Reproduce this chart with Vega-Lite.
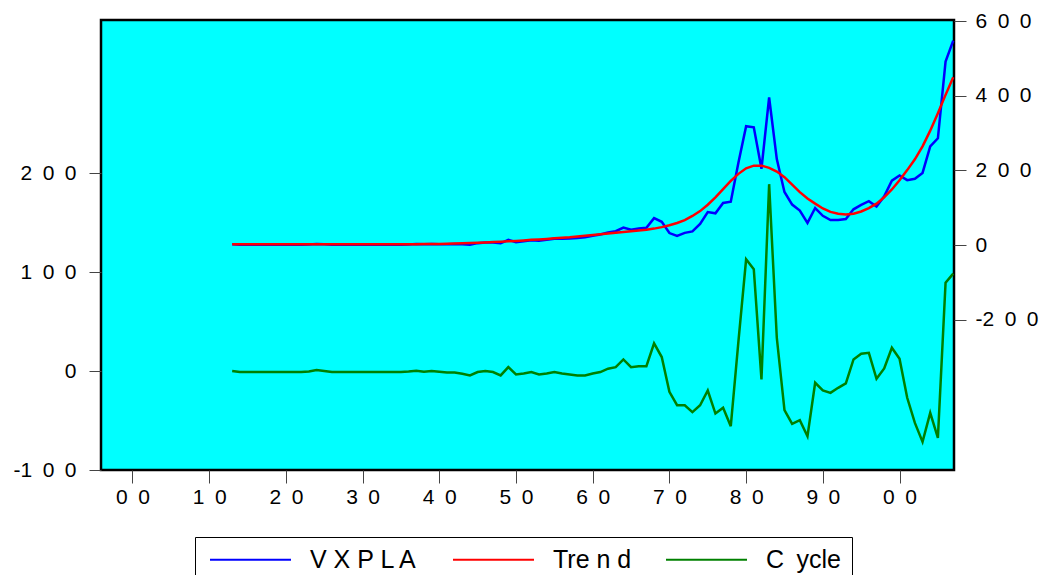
{
  "$schema": "https://vega.github.io/schema/vega-lite/v6.json",
  "width": 853,
  "height": 450,
  "autosize": {"type": "none"},
  "padding": {"left": 101, "top": 20, "right": 92, "bottom": 105},
  "background": "white",
  "config": {
    "view": {"fill": "#00FFFF", "stroke": "black", "strokeWidth": 2.5},
    "axis": {
      "labelFont": "Liberation Sans",
      "labelFontSize": 21,
      "labelColor": "black",
      "tickColor": "#444",
      "tickWidth": 1,
      "domain": false,
      "grid": false,
      "labelFlush": false,
      "labelOverlap": false,
      "labelBound": false
    },
    "legend": {
      "orient": "none",
      "legendX": 94,
      "legendY": 517,
      "direction": "horizontal",
      "strokeColor": "black",
      "fillColor": "white",
      "padding": 10,
      "symbolType": "M-4,0H4",
      "symbolSize": 410,
      "symbolOffset": 33,
      "symbolStrokeWidth": 2,
      "labelOffset": 47,
      "labelFont": "Liberation Sans",
      "labelFontSize": 25,
      "labelColor": "black",
      "columnPadding": 29,
      "title": null
    }
  },
  "data": {
    "values": [
      {"year": 1913, "VXPLA": 2, "Trend": 2, "Cycle": 0},
      {"year": 1914, "VXPLA": 1, "Trend": 2, "Cycle": -1},
      {"year": 1915, "VXPLA": 1, "Trend": 2, "Cycle": -1},
      {"year": 1916, "VXPLA": 1, "Trend": 2, "Cycle": -1},
      {"year": 1917, "VXPLA": 1, "Trend": 2, "Cycle": -1},
      {"year": 1918, "VXPLA": 1, "Trend": 2, "Cycle": -1},
      {"year": 1919, "VXPLA": 1, "Trend": 2, "Cycle": -1},
      {"year": 1920, "VXPLA": 1, "Trend": 2, "Cycle": -1},
      {"year": 1921, "VXPLA": 1, "Trend": 2, "Cycle": -1},
      {"year": 1922, "VXPLA": 1, "Trend": 2, "Cycle": -1},
      {"year": 1923, "VXPLA": 1.5, "Trend": 2, "Cycle": -0.5},
      {"year": 1924, "VXPLA": 3, "Trend": 2, "Cycle": 1},
      {"year": 1925, "VXPLA": 2, "Trend": 2, "Cycle": 0},
      {"year": 1926, "VXPLA": 1, "Trend": 2, "Cycle": -1},
      {"year": 1927, "VXPLA": 1, "Trend": 2, "Cycle": -1},
      {"year": 1928, "VXPLA": 1, "Trend": 2, "Cycle": -1},
      {"year": 1929, "VXPLA": 1, "Trend": 2, "Cycle": -1},
      {"year": 1930, "VXPLA": 1, "Trend": 2, "Cycle": -1},
      {"year": 1931, "VXPLA": 1, "Trend": 2, "Cycle": -1},
      {"year": 1932, "VXPLA": 1, "Trend": 2, "Cycle": -1},
      {"year": 1933, "VXPLA": 1, "Trend": 2, "Cycle": -1},
      {"year": 1934, "VXPLA": 1, "Trend": 2, "Cycle": -1},
      {"year": 1935, "VXPLA": 1, "Trend": 2, "Cycle": -1},
      {"year": 1936, "VXPLA": 1.5, "Trend": 2, "Cycle": -0.5},
      {"year": 1937, "VXPLA": 2.5, "Trend": 2.2, "Cycle": 0.3},
      {"year": 1938, "VXPLA": 1.8, "Trend": 2.4, "Cycle": -0.6},
      {"year": 1939, "VXPLA": 2.6, "Trend": 2.6, "Cycle": 0},
      {"year": 1940, "VXPLA": 2.3, "Trend": 3, "Cycle": -0.7},
      {"year": 1941, "VXPLA": 2, "Trend": 3.5, "Cycle": -1.5},
      {"year": 1942, "VXPLA": 2.5, "Trend": 4, "Cycle": -1.5},
      {"year": 1943, "VXPLA": 2, "Trend": 4.7, "Cycle": -2.7},
      {"year": 1944, "VXPLA": 1, "Trend": 5.4, "Cycle": -4.4},
      {"year": 1945, "VXPLA": 5, "Trend": 6, "Cycle": -1},
      {"year": 1946, "VXPLA": 7, "Trend": 7, "Cycle": 0},
      {"year": 1947, "VXPLA": 7, "Trend": 8, "Cycle": -1},
      {"year": 1948, "VXPLA": 4.6, "Trend": 9, "Cycle": -4.4},
      {"year": 1949, "VXPLA": 14, "Trend": 10, "Cycle": 4},
      {"year": 1950, "VXPLA": 7.6, "Trend": 11, "Cycle": -3.4},
      {"year": 1951, "VXPLA": 10, "Trend": 12.4, "Cycle": -2.4},
      {"year": 1952, "VXPLA": 13, "Trend": 14, "Cycle": -1},
      {"year": 1953, "VXPLA": 11.6, "Trend": 15, "Cycle": -3.4},
      {"year": 1954, "VXPLA": 14, "Trend": 16.4, "Cycle": -2.4},
      {"year": 1955, "VXPLA": 17, "Trend": 18, "Cycle": -1},
      {"year": 1956, "VXPLA": 17.1, "Trend": 19.5, "Cycle": -2.4},
      {"year": 1957, "VXPLA": 17.6, "Trend": 21, "Cycle": -3.4},
      {"year": 1958, "VXPLA": 18.6, "Trend": 23, "Cycle": -4.4},
      {"year": 1959, "VXPLA": 20.6, "Trend": 25, "Cycle": -4.4},
      {"year": 1960, "VXPLA": 24.6, "Trend": 27, "Cycle": -2.4},
      {"year": 1961, "VXPLA": 28, "Trend": 29, "Cycle": -1},
      {"year": 1962, "VXPLA": 33.4, "Trend": 31, "Cycle": 2.4},
      {"year": 1963, "VXPLA": 37, "Trend": 33, "Cycle": 4},
      {"year": 1964, "VXPLA": 46.8, "Trend": 35, "Cycle": 11.8},
      {"year": 1965, "VXPLA": 41, "Trend": 37, "Cycle": 4},
      {"year": 1966, "VXPLA": 44, "Trend": 39, "Cycle": 5},
      {"year": 1967, "VXPLA": 46, "Trend": 41, "Cycle": 5},
      {"year": 1968, "VXPLA": 72, "Trend": 44, "Cycle": 28},
      {"year": 1969, "VXPLA": 62.2, "Trend": 48, "Cycle": 14.2},
      {"year": 1970, "VXPLA": 32, "Trend": 53, "Cycle": -21},
      {"year": 1971, "VXPLA": 24.5, "Trend": 59, "Cycle": -34.5},
      {"year": 1972, "VXPLA": 32.5, "Trend": 67, "Cycle": -34.5},
      {"year": 1973, "VXPLA": 36.5, "Trend": 78, "Cycle": -41.5},
      {"year": 1974, "VXPLA": 56.5, "Trend": 91, "Cycle": -34.5},
      {"year": 1975, "VXPLA": 88.4, "Trend": 108, "Cycle": -19.6},
      {"year": 1976, "VXPLA": 85.1, "Trend": 128, "Cycle": -42.9},
      {"year": 1977, "VXPLA": 112.9, "Trend": 150, "Cycle": -37.1},
      {"year": 1978, "VXPLA": 116.3, "Trend": 172, "Cycle": -55.7},
      {"year": 1979, "VXPLA": 221.4, "Trend": 191, "Cycle": 30.4},
      {"year": 1980, "VXPLA": 319, "Trend": 206, "Cycle": 113},
      {"year": 1981, "VXPLA": 316, "Trend": 213, "Cycle": 103},
      {"year": 1982, "VXPLA": 204.6, "Trend": 213, "Cycle": -8.4},
      {"year": 1983, "VXPLA": 396, "Trend": 207, "Cycle": 189},
      {"year": 1984, "VXPLA": 230.7, "Trend": 197, "Cycle": 33.7},
      {"year": 1985, "VXPLA": 142.5, "Trend": 182, "Cycle": -39.5},
      {"year": 1986, "VXPLA": 108.6, "Trend": 162, "Cycle": -53.4},
      {"year": 1987, "VXPLA": 92.4, "Trend": 142, "Cycle": -49.6},
      {"year": 1988, "VXPLA": 59.2, "Trend": 125, "Cycle": -65.8},
      {"year": 1989, "VXPLA": 99.2, "Trend": 111, "Cycle": -11.8},
      {"year": 1990, "VXPLA": 78.4, "Trend": 98, "Cycle": -19.6},
      {"year": 1991, "VXPLA": 67, "Trend": 89, "Cycle": -22},
      {"year": 1992, "VXPLA": 67.1, "Trend": 84, "Cycle": -16.9},
      {"year": 1993, "VXPLA": 69.5, "Trend": 82, "Cycle": -12.5},
      {"year": 1994, "VXPLA": 95.8, "Trend": 84, "Cycle": 11.8},
      {"year": 1995, "VXPLA": 107.5, "Trend": 90, "Cycle": 17.5},
      {"year": 1996, "VXPLA": 117.5, "Trend": 99, "Cycle": 18.5},
      {"year": 1997, "VXPLA": 103.2, "Trend": 111, "Cycle": -7.8},
      {"year": 1998, "VXPLA": 130.7, "Trend": 128, "Cycle": 2.7},
      {"year": 1999, "VXPLA": 172.6, "Trend": 149, "Cycle": 23.6},
      {"year": 2000, "VXPLA": 186.5, "Trend": 174, "Cycle": 12.5},
      {"year": 2001, "VXPLA": 174, "Trend": 201, "Cycle": -27},
      {"year": 2002, "VXPLA": 177.6, "Trend": 230, "Cycle": -52.4},
      {"year": 2003, "VXPLA": 193.4, "Trend": 265, "Cycle": -71.6},
      {"year": 2004, "VXPLA": 264.8, "Trend": 307, "Cycle": -42.2},
      {"year": 2005, "VXPLA": 286.4, "Trend": 354, "Cycle": -67.6},
      {"year": 2006, "VXPLA": 492.4, "Trend": 403, "Cycle": 89.4},
      {"year": 2007, "VXPLA": 548.6, "Trend": 450, "Cycle": 98.6}
    ]
  },
  "transform": [{"fold": ["VXPLA", "Trend", "Cycle"], "as": ["series", "value"]}],
  "encoding": {
    "x": {
      "field": "year",
      "type": "quantitative",
      "scale": {"domain": [1895.9, 2007.1], "nice": false, "zero": false},
      "axis": {
        "title": null,
        "values": [1900, 1910, 1920, 1930, 1940, 1950, 1960, 1970, 1980, 1990, 2000],
        "labelExpr": "slice(format(datum.value % 100, '02d'), 0, 1) + '\u2002' + slice(format(datum.value % 100, '02d'), 1)",
        "tickSize": 13,
        "labelPadding": 3
      }
    },
    "color": {
      "field": "series",
      "type": "nominal",
      "scale": {"domain": ["VXPLA", "Trend", "Cycle"], "range": ["#0000FF", "#FF0000", "#008000"]},
      "legend": {
        "labelExpr": "datum.label == 'VXPLA' ? 'V X P L A' : datum.label == 'Trend' ? 'Tre n d' : 'C\u2002ycle'"
      }
    }
  },
  "layer": [
    {
      "encoding": {
        "y": {
          "field": "value",
          "type": "quantitative",
          "scale": {"domain": [-604, 604], "nice": false, "zero": false},
          "axis": {
            "orient": "right",
            "title": null,
            "values": [-200, 0, 200, 400, 600],
            "labelExpr": "datum.value == -200 ? '-2\u20020\u20020' : datum.value == 0 ? '0' : datum.value == 200 ? '2\u20020\u20020' : datum.value == 400 ? '4\u20020\u20020' : '6\u20020\u20020'",
            "tickSize": 12,
            "labelPadding": 9
          }
        }
      },
      "layer": [
        {
          "transform": [{"filter": "datum.series == 'VXPLA'"}],
          "mark": {"type": "line", "strokeWidth": 2.5}
        },
        {
          "transform": [{"filter": "datum.series == 'Trend'"}],
          "mark": {"type": "line", "strokeWidth": 2.5}
        }
      ]
    },
    {
      "transform": [{"filter": "datum.series == 'Cycle'"}],
      "mark": {"type": "line", "strokeWidth": 2.5},
      "encoding": {
        "y": {
          "field": "value",
          "type": "quantitative",
          "scale": {"domain": [-100, 355], "nice": false, "zero": false},
          "axis": {
            "orient": "left",
            "title": null,
            "values": [-100, 0, 100, 200],
            "labelExpr": "datum.value == -100 ? '-1\u20020\u20020' : datum.value == 0 ? '0' : datum.value == 100 ? '1\u20020\u20020' : '2\u20020\u20020'",
            "tickSize": 12,
            "labelPadding": 13
          }
        }
      }
    }
  ],
  "resolve": {"scale": {"y": "independent"}}
}
